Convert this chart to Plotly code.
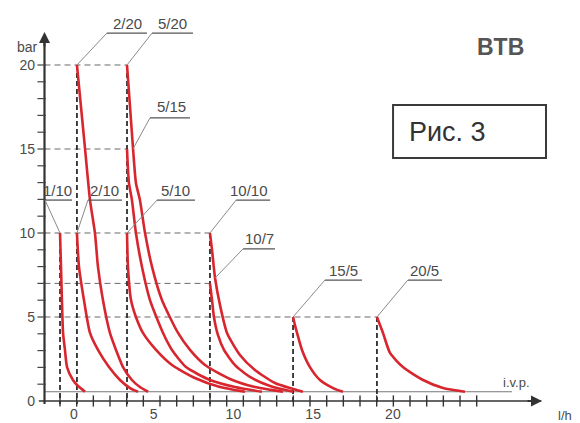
import numpy as np
import plotly.graph_objects as go

# ---- pump characteristic curves: flow (l/h) vs pressure (bar) ----
q_1_10 = [-0.87, -0.81, -0.75, -0.68, -0.56, -0.43, -0.06, 0.26, 0.70]
p_1_10 = [10, 8, 6, 4.05, 3.04, 2.02, 1.25, 0.89, 0.55]

q_2_10 = [0.19, 0.32, 0.63, 1.01, 1.51, 2.20, 2.89, 3.52, 4.02]
p_2_10 = [10, 7.98, 6.01, 4.05, 3.04, 2.02, 1.25, 0.77, 0.55]

q_2_20 = [0.19, 0.70, 1.01, 1.32, 1.51, 1.82, 2.26, 2.64, 3.08, 3.64, 4.14, 4.65]
p_2_20 = [20, 15, 11.96, 10, 7.98, 6.01, 4.05, 3.04, 2.02, 1.25, 0.83, 0.55]

q_5_10 = [3.33, 3.39, 3.58, 3.89, 4.33, 5.15, 6.15, 7.59, 9.16, 10.73]
p_5_10 = [10, 7.98, 6.01, 5.0, 4.05, 3.04, 2.14, 1.37, 0.83, 0.55]

q_5_15 = [3.33, 3.45, 3.64, 3.89, 4.27, 4.77, 5.59, 6.15, 7.03, 8.53, 10.10, 11.79]
p_5_15 = [15, 12.98, 11.96, 10, 7.98, 6.01, 4.05, 3.04, 2.02, 1.25, 0.83, 0.55]

q_5_20 = [3.33, 3.71, 3.89, 4.14, 4.46, 4.90, 5.52, 6.53, 7.28, 8.22, 9.79, 11.35, 13.11]
p_5_20 = [20, 15, 12.98, 11.96, 10, 7.98, 6.01, 4.05, 3.04, 2.14, 1.31, 0.83, 0.55]

q_10_10 = [8.53, 8.66, 8.85, 9.16, 9.60, 10.41, 11.35, 12.61, 14.36]
p_10_10 = [10, 8.99, 7.32, 5.71, 4.05, 2.74, 1.85, 1.07, 0.55]

q_10_7 = [8.53, 8.66, 8.78, 9.03, 9.41, 10.10, 11.04, 12.30, 13.74]
p_10_7 = [7, 6.01, 5.0, 3.93, 3.04, 2.14, 1.43, 0.89, 0.55]

q_15_5 = [13.74, 13.86, 13.99, 14.30, 14.80, 15.43, 16.25, 16.87]
p_15_5 = [5, 4.52, 4.05, 3.04, 2.02, 1.25, 0.77, 0.55]

q_20_5 = [19.0, 19.19, 19.38, 19.82, 20.63, 21.89, 23.14, 24.52]
p_20_5 = [5, 4.52, 4.05, 2.86, 2.02, 1.25, 0.77, 0.55]

curve_names = ["1/10", "2/10", "2/20", "5/10", "5/15", "5/20", "10/10", "10/7", "15/5", "20/5"]
curve_q = [q_1_10, q_2_10, q_2_20, q_5_10, q_5_15, q_5_20, q_10_10, q_10_7, q_15_5, q_20_5]
curve_p = [p_1_10, p_2_10, p_2_20, p_5_10, p_5_15, p_5_20, p_10_10, p_10_7, p_15_5, p_20_5]

# reference (dashed) lines
h_guide_p = [20, 15, 10, 7, 5]
h_guide_qend = [3.33, 3.33, 8.53, 8.53, 19.0]
v_guide_q = [-0.87, 0.19, 3.33, 8.53, 13.74, 19.0]
v_guide_ptop = [10, 20, 20, 10, 5, 5]
ivp_p = 0.55

x_ticklabels = [0, 5, 10, 15, 20]
y_ticklabels = [0, 5, 10, 15, 20]

# ---- layout constants ----
X_MIN, X_MAX = -2.376, 29.85
Y_MIN, Y_MAX = -0.179, 22.083
Y_AXIS_Q = -1.843
RED = "#d7262e"
TXT = "#4a4a4a"
FONT = "Liberation Sans, Arial, sans-serif"


def xp(v):
    return (v - X_MIN) / (X_MAX - X_MIN)


def yp(v):
    return (v - Y_MIN) / (Y_MAX - Y_MIN)


def text(x, y, t, size, color=TXT, family=FONT):
    fig.add_annotation(x=xp(x), y=yp(y), xref="paper", yref="paper", text=t,
                       xanchor="center", yanchor="middle",
                       showarrow=False, font=dict(family=family, size=size, color=color))


fig = go.Figure()

# horizontal dashed guides
hx, hy = [], []
for p, qe in zip(h_guide_p, h_guide_qend):
    hx += [Y_AXIS_Q, qe, None]
    hy += [p, p, None]
fig.add_trace(go.Scatter(x=hx, y=hy, mode="lines",
                         line=dict(color="#6a6a6a", width=1, dash="6px,4px"),
                         hoverinfo="skip", showlegend=False))

# i.v.p. line
fig.add_trace(go.Scatter(x=[Y_AXIS_Q, 27.47], y=[ivp_p, ivp_p], mode="lines",
                         line=dict(color="#777777", width=1),
                         hoverinfo="skip", showlegend=False))

# vertical dashed guides
vx, vy = [], []
for q, pt in zip(v_guide_q, v_guide_ptop):
    vx += [q, q, None]
    vy += [pt, Y_MIN, None]
fig.add_trace(go.Scatter(x=vx, y=vy, mode="lines",
                         line=dict(color="#2e2e2e", width=1.8, dash="5px,3px"),
                         hoverinfo="skip", showlegend=False))

# axes lines
fig.add_trace(go.Scatter(x=[-2.2, 29.3], y=[0, 0], mode="lines",
                         line=dict(color="#333333", width=1.6),
                         hoverinfo="skip", showlegend=False))
fig.add_trace(go.Scatter(x=[Y_AXIS_Q, Y_AXIS_Q], y=[Y_MIN, 21.8], mode="lines",
                         line=dict(color="#333333", width=2.2),
                         hoverinfo="skip", showlegend=False))

# axis tick marks
xt = np.arange(0, 26) * 1.045 - 0.871
fig.add_trace(go.Scatter(x=xt, y=np.zeros_like(xt), mode="markers", cliponaxis=False,
                         marker=dict(symbol="line-ns", size=8,
                                     line=dict(color="#333333", width=1.4)),
                         hoverinfo="skip", showlegend=False))
yt = np.arange(1, 21)
fig.add_trace(go.Scatter(x=np.full(yt.shape, Y_AXIS_Q - 0.18), y=yt, mode="markers",
                         marker=dict(symbol="line-ew", size=6,
                                     line=dict(color="#444444", width=1.2)),
                         hoverinfo="skip", showlegend=False))

# curves
for name, q, p in zip(curve_names, curve_q, curve_p):
    fig.add_trace(go.Scatter(x=q, y=p, mode="lines", name=name,
                             line=dict(color=RED, width=2.6, shape="spline", smoothing=0.6),
                             showlegend=False))

# labels with underline + leader
labels = [
    # text, text_x, text_y, underline x0, x1, underline y, leader end x, y
    ("1/10", -1.00, 12.55, -1.81, -0.12, 11.96, -0.87, 10.0),
    ("2/10", 1.94, 12.55, 0.88, 3.02, 11.96, 0.19, 10.0),
    ("5/10", 6.40, 12.55, 5.21, 7.59, 11.96, 3.33, 10.0),
    ("10/10", 10.95, 12.55, 10.17, 12.30, 11.96, 8.53, 10.0),
    ("10/7", 11.61, 9.70, 10.60, 12.61, 9.05, 8.85, 7.32),
    ("15/5", 16.93, 7.78, 15.74, 18.06, 7.20, 13.74, 5.0),
    ("20/5", 22.01, 7.78, 20.94, 23.08, 7.20, 19.0, 5.0),
    ("2/20", 3.33, 22.45, 2.07, 4.58, 21.9, 0.19, 20.0),
    ("5/20", 6.21, 22.45, 4.90, 7.47, 21.9, 3.33, 20.0),
    ("5/15", 6.15, 17.5, 4.77, 7.28, 16.85, 3.70, 15.0),
]
lx, ly, ux, uy = [], [], [], []
for t, tx, ty, x0, x1, yu, ex, ey in labels:
    ux += [x0, x1, None]
    uy += [yu, yu, None]
    lx += [x0, ex, None]
    ly += [yu, ey, None]
    text(tx, ty, t, 15)
fig.add_trace(go.Scatter(x=ux, y=uy, mode="lines", line=dict(color="#555555", width=1.3),
                         hoverinfo="skip", showlegend=False))
fig.add_trace(go.Scatter(x=lx, y=ly, mode="lines", line=dict(color="#8a8a8a", width=1),
                         hoverinfo="skip", showlegend=False))

# arrowheads of the axes
fig.add_annotation(x=Y_AXIS_Q, y=21.96, ax=0, ay=16, text="", showarrow=True,
                   arrowhead=2, arrowsize=1.1, arrowwidth=2, arrowcolor="#333333")
fig.add_annotation(x=29.35, y=0, ax=-16, ay=0, text="", showarrow=True,
                   arrowhead=2, arrowsize=1.1, arrowwidth=2, arrowcolor="#333333")

# axis names and other text
text(-2.88, 21.07, "bar", 14)
text(30.8, -0.85, "l/h", 13)
text(27.72, 1.13, "i.v.p.", 13)
text(26.73, 21.07, "<b>BTB</b>", 23, color="#555555",
     family="Liberation Sans Narrow, Liberation Sans, Arial")

# "Рис. 3" box
fig.add_shape(type="rect", x0=20.01, x1=29.6, y0=14.46, y1=17.62,
              line=dict(color="#3a3a3a", width=2), fillcolor="white", layer="above")
text(23.4, 16.0, "Рис. 3", 27, color="#333333")

fig.update_layout(
    width=580, height=423,
    margin=dict(l=36, r=30, t=30, b=19, autoexpand=False),
    paper_bgcolor="white", plot_bgcolor="white",
    showlegend=False,
    xaxis=dict(range=[X_MIN, X_MAX], showgrid=False, zeroline=False, showline=False,
               automargin=False, tickvals=x_ticklabels, ticks="",
               tickfont=dict(family=FONT, size=14, color=TXT)),
    yaxis=dict(range=[Y_MIN, Y_MAX], showgrid=False, zeroline=False, showline=False,
               automargin=False, tickvals=y_ticklabels, ticks="",
               tickfont=dict(family=FONT, size=14, color=TXT)),
)

fig.write_html("out.html")
